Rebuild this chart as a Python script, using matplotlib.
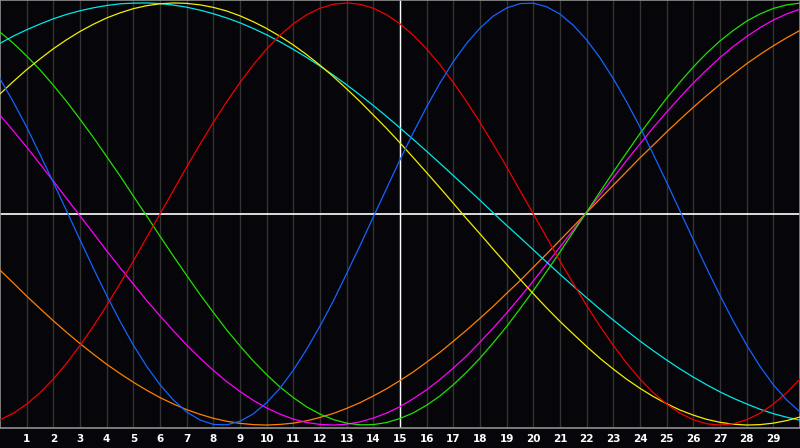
import numpy as np
import matplotlib
matplotlib.use("Agg")
import matplotlib.pyplot as plt

# sample positions: every half day from the left edge (0) to the right edge (30)
days = np.arange(0, 30.5, 0.5)
day_labels = [str(d) for d in range(1, 30)]

# curve values (-1 .. 1), one per half day
blue = [0.641, 0.531, 0.412, 0.282, 0.150, 0.014, -0.122, -0.257, -0.386, -0.508,
        -0.621, -0.722, -0.809, -0.881, -0.938, -0.976, -0.997, -0.999, -0.982, -0.947,
        -0.894, -0.825, -0.740, -0.641, -0.531, -0.412, -0.282, -0.150, -0.014, 0.122,
        0.257, 0.386, 0.508, 0.621, 0.722, 0.809, 0.881, 0.938, 0.976, 0.997,
        0.999, 0.982, 0.947, 0.894, 0.825, 0.740, 0.641, 0.531, 0.412, 0.282,
        0.150, 0.014, -0.122, -0.257, -0.386, -0.508, -0.621, -0.722, -0.809, -0.881,
        -0.938]
red = [-0.975, -0.944, -0.901, -0.847, -0.782, -0.707, -0.623, -0.532, -0.434, -0.330,
       -0.223, -0.111, 0.0, 0.111, 0.223, 0.330, 0.434, 0.532, 0.623, 0.707,
       0.782, 0.847, 0.901, 0.944, 0.975, 0.994, 1.0, 0.994, 0.975, 0.944,
       0.901, 0.847, 0.782, 0.707, 0.623, 0.532, 0.434, 0.330, 0.223, 0.111,
       0.0, -0.111, -0.223, -0.330, -0.434, -0.532, -0.623, -0.707, -0.782, -0.847,
       -0.901, -0.944, -0.975, -0.994, -1.0, -0.994, -0.975, -0.944, -0.901, -0.847,
       -0.782]
green = [0.862, 0.809, 0.749, 0.683, 0.610, 0.533, 0.449, 0.363, 0.272, 0.181,
         0.085, -0.009, -0.105, -0.199, -0.291, -0.381, -0.466, -0.549, -0.625, -0.697,
         -0.761, -0.820, -0.870, -0.914, -0.948, -0.974, -0.991, -0.999, -0.998, -0.988,
         -0.969, -0.942, -0.906, -0.862, -0.809, -0.749, -0.683, -0.610, -0.533, -0.449,
         -0.363, -0.272, -0.180, -0.085, 0.009, 0.105, 0.199, 0.291, 0.381, 0.466,
         0.549, 0.625, 0.697, 0.762, 0.820, 0.870, 0.914, 0.948, 0.974, 0.991,
         0.999]
magenta = [0.468, 0.394, 0.317, 0.237, 0.156, 0.073, -0.009, -0.091, -0.174, -0.254,
           -0.332, -0.410, -0.483, -0.553, -0.621, -0.683, -0.741, -0.794, -0.841, -0.883,
           -0.919, -0.948, -0.972, -0.988, -0.997, -1.000, -0.996, -0.985, -0.967, -0.943,
           -0.913, -0.875, -0.833, -0.784, -0.730, -0.672, -0.607, -0.540, -0.469, -0.394,
           -0.317, -0.237, -0.156, -0.075, 0.009, 0.091, 0.172, 0.254, 0.332, 0.410,
           0.483, 0.553, 0.621, 0.683, 0.741, 0.794, 0.841, 0.883, 0.919, 0.948,
           0.971]
orange = [-0.266, -0.327, -0.389, -0.448, -0.506, -0.561, -0.614, -0.664, -0.712, -0.756,
          -0.797, -0.835, -0.870, -0.900, -0.927, -0.949, -0.968, -0.982, -0.992, -0.998,
          -1.000, -0.997, -0.991, -0.980, -0.964, -0.945, -0.921, -0.894, -0.862, -0.828,
          -0.789, -0.748, -0.702, -0.655, -0.603, -0.550, -0.494, -0.437, -0.376, -0.316,
          -0.252, -0.189, -0.124, -0.059, 0.007, 0.072, 0.137, 0.201, 0.266, 0.327,
          0.389, 0.448, 0.506, 0.561, 0.614, 0.664, 0.712, 0.756, 0.797, 0.835,
          0.870]
yellow = [0.569, 0.628, 0.684, 0.735, 0.783, 0.826, 0.865, 0.899, 0.929, 0.953,
          0.973, 0.987, 0.996, 1.000, 0.998, 0.991, 0.979, 0.962, 0.939, 0.911,
          0.879, 0.842, 0.801, 0.755, 0.705, 0.651, 0.593, 0.533, 0.469, 0.405,
          0.337, 0.267, 0.196, 0.124, 0.051, -0.023, -0.094, -0.167, -0.239, -0.309,
          -0.378, -0.445, -0.509, -0.569, -0.628, -0.684, -0.735, -0.783, -0.826, -0.865,
          -0.899, -0.929, -0.953, -0.973, -0.987, -0.996, -1.000, -0.998, -0.991, -0.979,
          -0.962]
cyan = [0.809, 0.843, 0.873, 0.900, 0.925, 0.946, 0.963, 0.977, 0.988, 0.996,
        0.999, 1.000, 0.997, 0.990, 0.980, 0.966, 0.949, 0.929, 0.906, 0.879,
        0.849, 0.816, 0.780, 0.742, 0.701, 0.658, 0.612, 0.564, 0.514, 0.462,
        0.408, 0.353, 0.297, 0.240, 0.182, 0.124, 0.065, 0.005, -0.054, -0.111,
        -0.170, -0.228, -0.286, -0.342, -0.397, -0.451, -0.503, -0.553, -0.602, -0.648,
        -0.692, -0.734, -0.773, -0.809, -0.843, -0.873, -0.900, -0.925, -0.946, -0.963,
        -0.977]

series = [(orange, '#ff8000'), (magenta, '#ff00ff'), (green, '#20e000'),
          (cyan, '#00e8e8'), (yellow, '#f0f000'), (red, '#f00000'), (blue, '#1464ff')]

bg = '#060509'
fig = plt.figure(figsize=(8, 4.48), dpi=100, facecolor=bg)
ax = fig.add_axes([0, 20 / 448, 1, 428 / 448])
ax.set_facecolor(bg)

for d in range(1, 30):
    ax.axvline(d, color='#333333', lw=1, zorder=1)
ax.axvline(15, color='white', lw=1, zorder=2)
ax.axhline(0, color='white', lw=1.2, zorder=2)

for vals, col in series:
    ax.plot(days, vals, color=col, lw=0.9, zorder=3)

ax.set_xlim(0, 30)
ax.set_ylim(-1.014, 1.014)
ax.set_yticks([])
ax.set_xticks(range(1, 30))
ax.set_xticklabels(day_labels, color='white', fontsize=7.5, fontweight='bold')
ax.tick_params(axis='x', length=0, pad=4)
for s in ax.spines.values():
    s.set_color('#909090')
    s.set_linewidth(1.2)

fig.savefig('out.png', dpi=100, facecolor=bg)
